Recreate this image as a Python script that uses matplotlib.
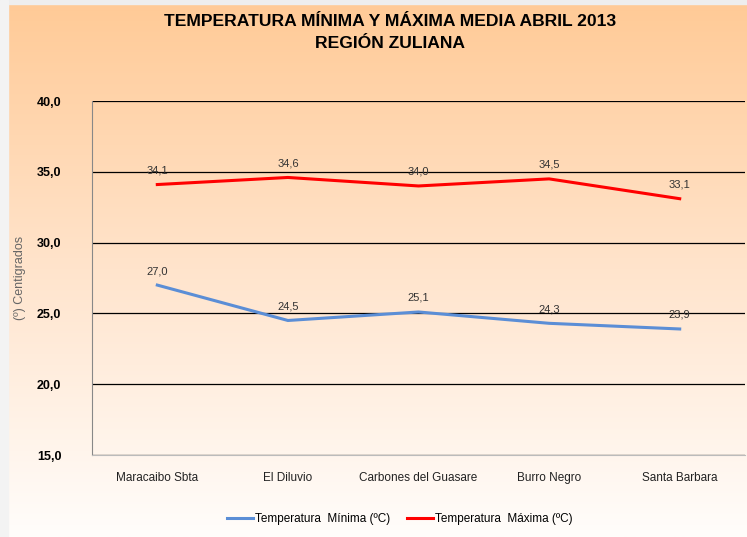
import numpy as np
import matplotlib
matplotlib.use("Agg")
import matplotlib.pyplot as plt
from matplotlib.colors import LinearSegmentedColormap

estaciones = ["Maracaibo Sbta", "El Diluvio", "Carbones del Guasare",
              "Burro Negro", "Santa Barbara"]
temp_min = [27.0, 24.5, 25.1, 24.3, 23.9]
temp_max = [34.1, 34.6, 34.0, 34.5, 33.1]
y_ticks = [15, 20, 25, 30, 35, 40]

plt.rcParams["font.family"] = ["Liberation Sans", "DejaVu Sans"]

fig = plt.figure(figsize=(7.47, 5.37), dpi=100)

# fondo degradado
bg = fig.add_axes([0, 0, 1, 1], zorder=-10)
cmap = LinearSegmentedColormap.from_list("peach", ["#FFCA96", "#FFE4CC", "#FFFDFB"])
grad = np.linspace(0, 1, 256).reshape(-1, 1)
bg.imshow(grad, aspect="auto", cmap=cmap, extent=[0, 1, 0, 1],
          origin="upper", transform=bg.transAxes)
# borde gris claro
bg.axhspan(1 - 4 / 537, 1, color="#EEEEEE")
bg.axvspan(0, 8 / 747, color="#F3F3F3")
bg.set_xlim(0, 1)
bg.set_ylim(0, 1)
bg.axis("off")

ax = fig.add_axes([92 / 747, 1 - 455 / 537, 653 / 747, 354 / 537])
ax.patch.set_alpha(0)

x = np.arange(len(estaciones))
ax.plot(x, temp_min, color="#5B8ED6", lw=2.2, label="Temperatura  Mínima (ºC)")
ax.plot(x, temp_max, color="#FF0000", lw=2.2, label="Temperatura  Máxima (ºC)")

for serie in (temp_min, temp_max):
    for xi, v in zip(x, serie):
        ax.annotate(f"{v:.1f}".replace(".", ","), (xi, v), xytext=(0, 6.5),
                    textcoords="offset points", ha="center", va="bottom",
                    fontsize=8, color="#333333")

ax.set_xlim(-0.5, len(estaciones) - 0.5)
ax.set_ylim(15, 40)
ax.set_yticks(y_ticks)
ax.set_yticklabels([f"{t:.1f}".replace(".", ",") for t in y_ticks],
                   fontsize=9, fontweight="bold")
ax.set_xticks(x)
ax.set_xticklabels(estaciones, fontsize=8.5, color="#222222")
ax.tick_params(axis="both", length=0)
ax.tick_params(axis="y", pad=22)
ax.tick_params(axis="x", pad=12)

ax.yaxis.grid(True, color="black", lw=0.9)
ax.set_axisbelow(True)
for s in ["top", "right"]:
    ax.spines[s].set_visible(False)
ax.spines["left"].set_color("#888888")
ax.spines["bottom"].set_color("#BBBBBB")

ax.set_ylabel("(º) Centigrados", fontsize=9, color="#666666", labelpad=8)

fig.text(390 / 747, 1 - 22 / 537, "TEMPERATURA MÍNIMA Y MÁXIMA MEDIA ABRIL 2013",
         ha="center", va="center", fontsize=12.6, fontweight="bold")
fig.text(390 / 747, 1 - 43 / 537, "REGIÓN ZULIANA",
         ha="center", va="center", fontsize=12.6, fontweight="bold")

fig.legend(loc="center", bbox_to_anchor=(400 / 747, 1 - 519 / 537), ncol=2,
           frameon=False, fontsize=8.5, handlelength=2.2, handletextpad=0.2,
           columnspacing=1.4)

fig.savefig("out.png", dpi=100)
